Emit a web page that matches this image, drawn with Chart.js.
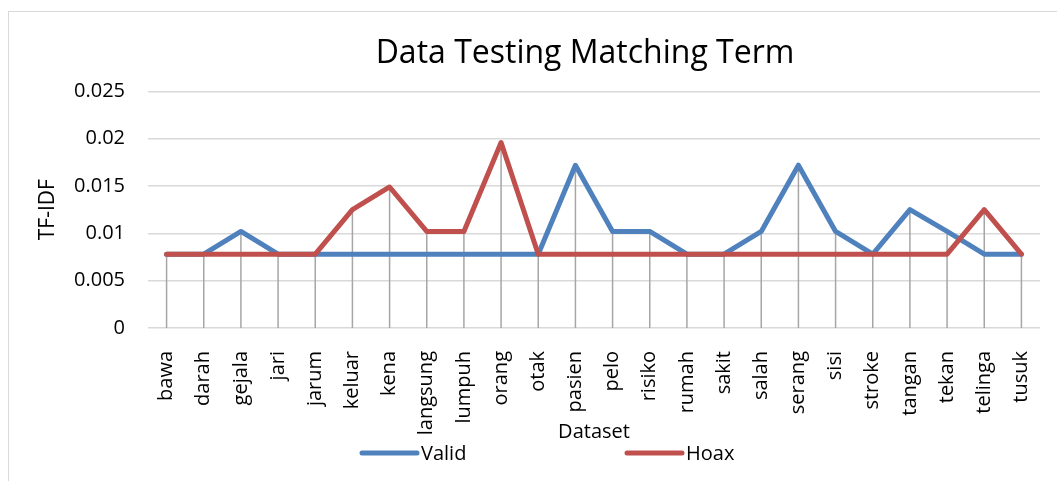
<!DOCTYPE html>
<html>
<head>
<meta charset="utf-8">
<script src="https://cdn.jsdelivr.net/npm/chart.js@4.4.1/dist/chart.umd.min.js"></script>
<style>
  html, body { margin: 0; padding: 0; background: #fff; overflow: hidden; }
  #frame { position: absolute; left: 8px; top: 11px; width: 1200px; height: 600px; border: 1px solid #d9d9d9; }
  #wrap { position: absolute; left: 0; top: 0; width: 1135px; height: 481px; }
</style>
</head>
<body>
<div id="frame"></div>
<div id="wrap"><canvas id="chart"></canvas></div>
<script>
const categories = ['bawa', 'darah', 'gejala', 'jari', 'jarum', 'keluar', 'kena', 'langsung', 'lumpuh', 'orang', 'otak', 'pasien',
    'pelo', 'risiko', 'rumah', 'sakit', 'salah', 'serang', 'sisi', 'stroke', 'tangan', 'tekan', 'telinga', 'tusuk'];

const validValues = [0.0078, 0.0078, 0.0102, 0.0078, 0.0078, 0.0078, 0.0078, 0.0078, 0.0078, 0.0078, 0.0078, 0.0172,
    0.0102, 0.0102, 0.0078, 0.0078, 0.0102, 0.0172, 0.0102, 0.0078, 0.0125, 0.0102, 0.0078, 0.0078];

const hoaxValues = [0.0078, 0.0078, 0.0078, 0.0078, 0.0078, 0.0125, 0.0149, 0.0102, 0.0102, 0.0196, 0.0078, 0.0078,
    0.0078, 0.0078, 0.0078, 0.0078, 0.0078, 0.0078, 0.0078, 0.0078, 0.0078, 0.0078, 0.0125, 0.0078];

const seriesNames = ['Valid', 'Hoax'];
const yMin = 0, yMax = 0.025, yStep = 0.005;

const FONT = '"Open Sans", "Liberation Sans", sans-serif';

// grey drop lines from the highest point of each category down to 0
const dropLines = {
    id: 'dropLines',
    beforeDatasetsDraw(chart) {
        const { ctx, scales: { x, y } } = chart;
        ctx.save();
        ctx.strokeStyle = '#a6a6a6';
        ctx.lineWidth = 1.5;
        categories.forEach((c, i) => {
            const top = Math.max(...chart.data.datasets.map(d => d.data[i]));
            const px = x.getPixelForValue(i);
            ctx.beginPath();
            ctx.moveTo(px, y.getPixelForValue(top));
            ctx.lineTo(px, y.getPixelForValue(0));
            ctx.stroke();
        });
        ctx.restore();
    }
};

// excel style legend: long line swatches, wide gap between items
const lineLegend = {
    id: 'lineLegend',
    afterDraw(chart, args, opts) {
        const ctx = chart.ctx;
        ctx.save();
        ctx.font = '20px ' + FONT;
        ctx.textBaseline = 'middle';
        chart.data.datasets.forEach((ds, i) => {
            const x0 = opts.x[i];
            ctx.strokeStyle = ds.borderColor;
            ctx.lineWidth = 5;
            ctx.lineCap = 'round';
            ctx.beginPath();
            ctx.moveTo(x0, opts.y);
            ctx.lineTo(x0 + 55, opts.y);
            ctx.stroke();
            ctx.fillStyle = '#000';
            ctx.fillText(ds.label, x0 + 59, opts.y + 1);
        });
        ctx.restore();
    }
};

const chart = new Chart(document.getElementById('chart'), {
    type: 'line',
    data: {
        labels: categories,
        datasets: [
            { label: seriesNames[0], data: validValues, borderColor: '#4f81bd', backgroundColor: '#4f81bd', order: 2 },
            { label: seriesNames[1], data: hoaxValues, borderColor: '#c0504d', backgroundColor: '#c0504d', order: 1 }
        ]
    },
    options: {
        responsive: true,
        maintainAspectRatio: false,
        animation: false,
        layout: { padding: { left: 35, right: 0, top: 0, bottom: 37 } },
        elements: {
            line: { borderWidth: 5, tension: 0, borderJoinStyle: 'round', borderCapStyle: 'round' },
            point: { radius: 0, hoverRadius: 0 }
        },
        plugins: {
            legend: { display: false },
            tooltip: { enabled: false },
            title: {
                display: true,
                text: 'Data Testing Matching Term',
                color: '#000',
                font: { family: FONT, size: 32, weight: 'normal' },
                padding: { top: 35, bottom: 18 }
            },
            lineLegend: { x: [362, 627], y: 453 }
        },
        scales: {
            x: {
                offset: true,
                grid: { display: false },
                border: { display: false },
                ticks: {
                    autoSkip: false, minRotation: 90, maxRotation: 90, padding: 15,
                    color: '#000', font: { family: FONT, size: 20 }
                },
                title: {
                    display: true, text: 'Dataset', color: '#000',
                    font: { family: FONT, size: 20 }, padding: { top: 0, bottom: 0 }
                },
                afterFit: s => { s.height = 116; }
            },
            y: {
                min: yMin, max: yMax,
                grid: { color: '#d9d9d9', lineWidth: 1.5, drawTicks: false },
                border: { display: false },
                ticks: {
                    stepSize: yStep, padding: 23, color: '#000',
                    font: { family: FONT, size: 20 },
                    callback: v => String(+v.toFixed(3))
                },
                title: {
                    display: true, text: 'TF-IDF', color: '#000',
                    font: { family: FONT, size: 21 }, padding: { top: 0, bottom: 0 }
                },
                afterFit: s => { s.width = 113; }
            },
            // empty spacer on the right so the title centres like the original
            spacer: {
                type: 'linear', position: 'right', display: true,
                grid: { display: false }, border: { display: false }, ticks: { display: false },
                afterFit: s => { s.width = 95; }
            }
        }
    },
    plugins: [dropLines, lineLegend]
});
</script>
</body>
</html>
